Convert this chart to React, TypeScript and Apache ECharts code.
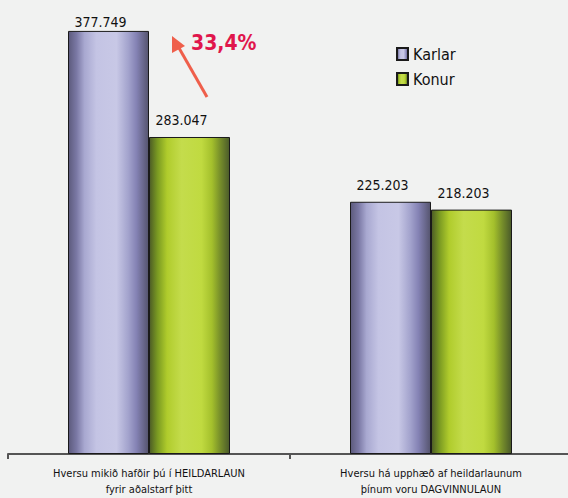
import React, { useEffect, useRef } from "react";
import * as echarts from "echarts";

const categories = [
  "Hversu mikið hafðir þú í HEILDARLAUN\nfyrir aðalstarf þitt",
  "Hversu há upphæð af heildarlaunum\nþínum voru DAGVINNULAUN",
];
const seriesNames = ["Karlar", "Konur"];
const karlar = [377749, 225203];
const konur = [283047, 218203];
const annotationText = "33,4%";

const fmt = (v: number) => {
  const s = Math.round(v).toString();
  return s.replace(/\B(?=(\d{3})+(?!\d))/g, ".");
};

const FONT = "'DejaVu Sans Condensed', 'Liberation Sans Narrow', sans-serif";

const purpleGrad = new echarts.graphic.LinearGradient(0, 0, 1, 0, [
  { offset: 0, color: "#5c5a7c" },
  { offset: 0.1, color: "#7a78a4" },
  { offset: 0.2, color: "#a8a8d0" },
  { offset: 0.35, color: "#c4c4e4" },
  { offset: 0.6, color: "#c8c8e6" },
  { offset: 0.75, color: "#a2a2cc" },
  { offset: 0.85, color: "#8482b4" },
  { offset: 1, color: "#55546e" },
]);
const greenGrad = new echarts.graphic.LinearGradient(0, 0, 1, 0, [
  { offset: 0, color: "#4c5c26" },
  { offset: 0.1, color: "#7a9a22" },
  { offset: 0.22, color: "#b0cc2c" },
  { offset: 0.4, color: "#c4dc4c" },
  { offset: 0.65, color: "#c0da40" },
  { offset: 0.78, color: "#a4c02c" },
  { offset: 0.88, color: "#78902a" },
  { offset: 1, color: "#4a5a2a" },
]);

export default function App() {
  const ref = useRef<HTMLDivElement>(null);
  useEffect(() => {
    if (!ref.current) return;
    document.body.style.margin = "0";
    document.body.style.overflow = "hidden";
    const chart = echarts.init(ref.current, null, { renderer: "svg" });
    const labelCfg = {
      show: true,
      position: "top",
      distance: 10,
      offset: [-8, 0],
      color: "#111",
      fontFamily: FONT,
      fontSize: 14,
      formatter: (p: any) => fmt(p.value),
    };
    // the tallest bar's label sits closer to the bar top in the reference
    const karlarData = karlar.map((v, i) =>
      i === 0 ? { value: v, label: { distance: 2 } } : v
    );
    chart.setOption({
      animation: false,
      backgroundColor: "#f1f2f1",
      grid: {
        left: 8,
        right: -4,
        top: 6,
        bottom: 44,
        containLabel: false,
        outerBoundsMode: "none",
      },
      legend: {
        orient: "vertical",
        left: 396,
        top: 46,
        padding: 0,
        icon: "rect",
        itemWidth: 11,
        itemHeight: 12,
        itemGap: 9,
        data: seriesNames,
        textStyle: { fontFamily: FONT, fontSize: 16, color: "#111" },
      },
      xAxis: {
        type: "category",
        data: categories,
        axisLine: { lineStyle: { color: "#555", width: 2 } },
        axisTick: { show: true, length: 5, lineStyle: { color: "#555", width: 2 } },
        axisLabel: {
          interval: 0,
          margin: 11,
          fontFamily: FONT,
          fontSize: 11,
          lineHeight: 16,
          color: "#111",
        },
      },
      yAxis: {
        type: "value",
        min: 0,
        max: 400000,
        show: false,
        splitLine: { show: false },
      },
      series: [
        {
          name: seriesNames[0],
          type: "bar",
          data: karlarData,
          barWidth: 81,
          barGap: "0%",
          itemStyle: { color: purpleGrad, borderColor: "#1a1a1a", borderWidth: 1 },
          label: labelCfg,
        },
        {
          name: seriesNames[1],
          type: "bar",
          data: konur,
          barWidth: 81,
          itemStyle: { color: greenGrad, borderColor: "#1a1a1a", borderWidth: 1 },
          label: labelCfg,
        },
      ],
      graphic: [
        {
          type: "line",
          shape: { x1: 207, y1: 97, x2: 179, y2: 48 },
          style: { stroke: "#ef5f4b", lineWidth: 3 },
        },
        {
          type: "polygon",
          shape: { points: [[172, 36], [172, 53], [185, 46]] },
          style: { fill: "#ef5f4b" },
        },
        {
          type: "text",
          x: 191,
          y: 32,
          style: {
            text: annotationText,
            fill: "#e0164c",
            font: `bold 21px ${FONT}`,
          },
        },
      ],
    });
    return () => chart.dispose();
  }, []);
  return (
    <div
      ref={ref}
      style={{ width: 568, height: 498, position: "fixed", left: 0, top: 0 }}
    />
  );
}
